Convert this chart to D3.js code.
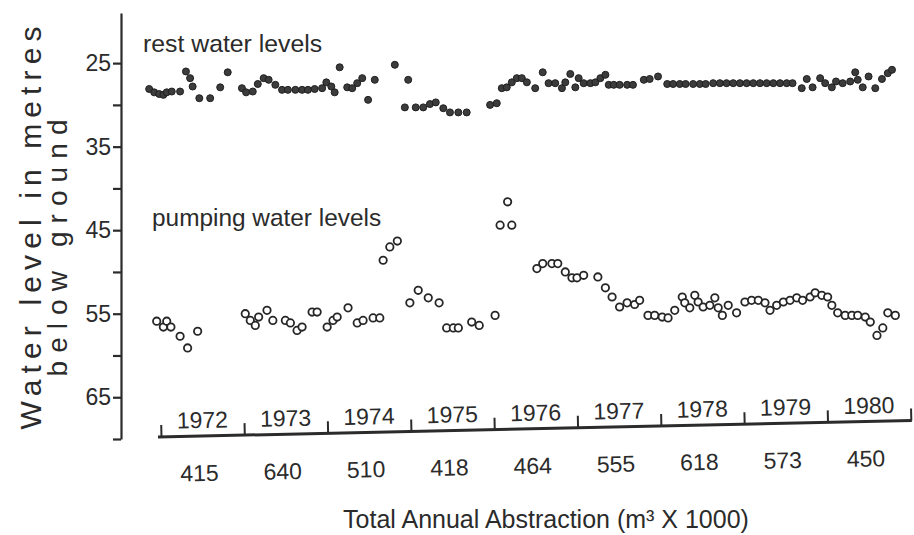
<!DOCTYPE html>
<html>
<head>
<meta charset="utf-8">
<script src="https://cdn.jsdelivr.net/npm/d3@7"></script>
<style>
  html, body { margin: 0; padding: 0; background: #fff; }
  svg { display: block; }
  text { font-family: "Liberation Sans", Arial, Helvetica, sans-serif; fill: #2b2b2b; }
</style>
</head>
<body>
<svg id="chart" width="914" height="535"></svg>
<script>
// Rest water level: time of reading (decimal year) and depth below ground (m)
const restTime = [
  1972.05,1972.11,1972.17,1972.22,1972.26,1972.32,1972.42,1972.49,1972.54,1972.57,1972.65,1972.78,1972.90,1972.99,
  1973.16,1973.21,1973.29,1973.35,1973.42,1973.48,1973.56,1973.64,1973.71,1973.80,1973.88,1973.95,
  1974.03,1974.12,1974.17,1974.23,1974.27,1974.33,1974.42,1974.48,1974.54,1974.60,1974.67,1974.75,1974.99,
  1975.11,1975.15,1975.24,1975.33,1975.41,1975.48,1975.57,1975.65,1975.75,1975.85,
  1976.13,1976.21,1976.27,1976.33,1976.39,1976.45,1976.51,1976.57,1976.67,1976.76,1976.83,1976.91,1976.99,
  1977.03,1977.09,1977.15,1977.19,1977.25,1977.33,1977.39,1977.45,1977.51,1977.55,1977.61,1977.68,1977.77,1977.84,1977.97,
  1978.04,1978.14,1978.25,1978.32,1978.40,1978.47,1978.56,1978.64,1978.71,1978.80,1978.88,1978.96,
  1979.04,1979.12,1979.20,1979.28,1979.36,1979.44,1979.52,1979.60,1979.68,1979.75,1979.86,1979.92,1979.99,
  1980.08,1980.14,1980.22,1980.27,1980.35,1980.44,1980.50,1980.53,1980.59,1980.66,1980.74,1980.82,1980.89,1980.94
];
const restLevel = [
  28.1,28.5,28.7,28.8,28.5,28.4,28.4,26.0,26.8,27.8,29.2,29.2,27.9,26.1,
  28.0,28.5,28.4,27.5,26.8,27.0,27.6,28.2,28.2,28.2,28.2,28.2,
  28.1,28.0,27.3,27.8,28.5,25.5,27.9,28.0,27.4,26.8,29.4,27.0,25.2,
  30.3,27.0,30.3,30.3,29.9,29.7,30.4,30.9,30.9,30.9,
  30.0,29.8,28.0,27.9,27.3,26.8,26.8,27.3,28.0,26.1,27.4,27.4,28.0,
  27.3,26.3,27.9,26.8,27.4,27.4,27.3,26.8,26.4,27.6,27.6,27.6,27.6,27.6,27.0,
  26.9,26.6,27.5,27.5,27.5,27.5,27.5,27.5,27.5,27.4,27.4,27.4,
  27.4,27.4,27.4,27.4,27.4,27.4,27.4,27.4,27.4,27.4,28.0,26.9,27.9,
  26.8,27.4,27.9,27.2,27.4,27.2,26.1,27.0,27.9,26.6,28.0,26.9,26.2,25.8
];

// Pumping water level: time of reading (decimal year) and depth below ground (m)
const pumpTime = [
  1972.14,1972.22,1972.26,1972.31,1972.42,1972.51,1972.63,
  1973.20,1973.26,1973.32,1973.36,1973.46,1973.53,1973.68,1973.74,1973.82,1973.88,
  1974.00,1974.06,1974.18,1974.25,1974.30,1974.43,1974.54,1974.61,1974.73,1974.81,1974.85,1974.93,
  1975.02,1975.17,1975.27,1975.39,1975.52,1975.61,1975.69,1975.75,1975.91,
  1976.00,1976.19,1976.25,1976.34,1976.39,1976.69,1976.76,1976.87,1976.94,
  1977.03,1977.11,1977.17,1977.25,1977.42,1977.51,1977.59,1977.68,1977.77,1977.86,1977.92,
  1978.02,1978.10,1978.19,1978.26,1978.34,1978.43,1978.46,1978.52,1978.58,1978.62,1978.68,1978.76,1978.82,1978.86,1978.91,1978.98,
  1979.08,1979.18,1979.26,1979.34,1979.42,1979.48,1979.56,1979.64,1979.72,1979.80,1979.87,1979.96,
  1980.02,1980.10,1980.17,1980.22,1980.29,1980.38,1980.46,1980.53,1980.62,1980.68,1980.76,1980.83,1980.89,1980.98
];
const pumpLevel = [
  55.9,56.6,55.9,56.6,57.7,59.1,57.1,
  55.0,55.8,56.4,55.4,54.6,55.8,55.8,56.1,57.0,56.6,
  54.8,54.8,56.6,55.8,55.4,54.3,56.1,55.8,55.5,55.5,48.6,47.0,
  46.3,53.7,52.2,53.1,53.7,56.7,56.7,56.7,56.0,
  56.4,55.2,44.4,41.6,44.4,49.6,49.0,49.0,49.0,
  50.0,50.7,50.7,50.4,50.6,51.9,53.0,54.2,53.7,53.9,53.4,
  55.2,55.2,55.4,55.5,54.6,53.0,53.7,54.3,52.8,53.6,54.2,54.0,53.1,54.3,55.2,54.0,
  54.9,53.6,53.4,53.4,53.7,54.6,54.0,53.6,53.4,53.1,53.4,53.0,
  52.5,52.8,53.0,54.0,54.9,55.2,55.2,55.2,55.4,56.0,57.6,56.7,54.9,55.2
];

// Years and total annual abstraction (m3 x 1000)
const years = [1972, 1973, 1974, 1975, 1976, 1977, 1978, 1979, 1980];
const abstraction = [415, 640, 510, 418, 464, 555, 618, 573, 450];

// Depth axis ticks
const levelTicks = [25, 35, 45, 55, 65];
const minorLevelTicks = [30, 40, 50, 60, 70];

const ink = "#2b2b2b";
const svg = d3.select("#chart");

// Scales
const x = d3.scaleLinear().domain([1972, 1981]).range([145, 897]);
const y = d3.scaleLinear().domain([19, 70]).range([13, 439]);
const xYear = d3.scaleLinear().domain([1972, 1981]).range([161, 911]);

// Depth axis
const yAxis = d3.axisLeft(y)
  .tickValues(levelTicks.concat(minorLevelTicks))
  .tickSize(8)
  .tickSizeOuter(0)
  .tickPadding(2)
  .tickFormat(d => levelTicks.includes(d) ? d : "");
const yg = svg.append("g")
  .attr("transform", "translate(121,0)")
  .call(yAxis);
yg.select(".domain").attr("stroke", ink).attr("stroke-width", 2.2);
yg.selectAll(".tick line").attr("stroke", ink).attr("stroke-width", 2.2);
yg.selectAll(".tick text")
  .attr("font-family", "Liberation Sans, Arial, sans-serif")
  .attr("font-size", 23)
  .attr("fill", ink);

// Depth axis title (two lines)
svg.append("text")
  .attr("transform", "translate(41,228) rotate(-90)")
  .attr("text-anchor", "middle")
  .attr("font-size", 30)
  .attr("fill", "#333")
  .attr("textLength", 403)
  .attr("lengthAdjust", "spacing")
  .text("Water level in metres");
svg.append("text")
  .attr("transform", "translate(67,248) rotate(-90)")
  .attr("text-anchor", "middle")
  .attr("font-size", 28)
  .attr("fill", "#333")
  .attr("textLength", 257)
  .attr("lengthAdjust", "spacing")
  .text("below ground");

// Year axis with annual abstraction beneath
const baseY = 437;
const yearG = svg.append("g")
  .attr("transform", `rotate(-1.25, ${xYear(1972) - 3}, ${baseY})`);
yearG.append("line")
  .attr("x1", xYear(1972) - 3).attr("x2", xYear(1981) + 1)
  .attr("y1", baseY).attr("y2", baseY)
  .attr("stroke", ink).attr("stroke-width", 3);
const tickG = yearG.append("g")
  .attr("transform", `translate(0,${baseY})`)
  .call(d3.axisTop(xYear).tickValues(d3.range(1972, 1982)).tickSize(12).tickSizeOuter(0).tickFormat(""));
tickG.select(".domain").remove();
tickG.selectAll(".tick line").attr("stroke", ink).attr("stroke-width", 2);

yearG.selectAll("text.year")
  .data(years)
  .join("text")
  .attr("class", "year")
  .attr("x", d => xYear(d + 0.5))
  .attr("y", baseY - 8)
  .attr("text-anchor", "middle")
  .attr("font-size", 23)
  .text(d => d);

yearG.selectAll("text.abs")
  .data(abstraction)
  .join("text")
  .attr("class", "abs")
  .attr("x", (d, i) => xYear(years[i] + 0.5) - 4)
  .attr("y", baseY + 45)
  .attr("text-anchor", "middle")
  .attr("font-size", 23)
  .text(d => d);

svg.append("text")
  .attr("x", 546)
  .attr("y", 528)
  .attr("text-anchor", "middle")
  .attr("font-size", 25)
  .text("Total Annual Abstraction (m\u00B3 X 1000)");

// Series labels
svg.append("text").attr("x", 143).attr("y", 52).attr("font-size", 24.8).text("rest water levels");
svg.append("text").attr("x", 152).attr("y", 226).attr("font-size", 24.4).text("pumping water levels");

// Rest water levels: filled dots
svg.append("g").selectAll("circle")
  .data(restTime.map((t, i) => [t, restLevel[i]]))
  .join("circle")
  .attr("cx", d => x(d[0]))
  .attr("cy", d => y(d[1]))
  .attr("r", 3.5)
  .attr("fill", "#3c3c3c")
  .attr("stroke", "#1f1f1f")
  .attr("stroke-width", 1);

// Pumping water levels: open circles
svg.append("g").selectAll("circle")
  .data(pumpTime.map((t, i) => [t, pumpLevel[i]]))
  .join("circle")
  .attr("cx", d => x(d[0]))
  .attr("cy", d => y(d[1]))
  .attr("r", 3.7)
  .attr("fill", "#fff")
  .attr("stroke", "#262626")
  .attr("stroke-width", 1.8);
</script>
</body>
</html>
